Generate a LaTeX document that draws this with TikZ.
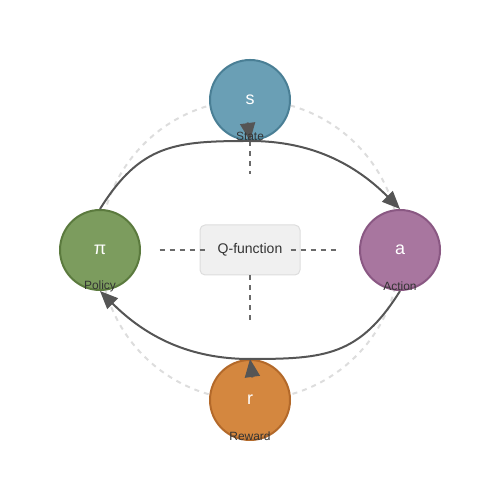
\documentclass[tikz,border=0pt]{standalone}
\usepackage{fontspec}
\setmainfont{Liberation Sans}
\usetikzlibrary{positioning,arrows.meta}
\definecolor{statefill}{HTML}{6A9FB5}
\definecolor{statedraw}{HTML}{4A7F95}
\definecolor{policyfill}{HTML}{7C9C5E}
\definecolor{policydraw}{HTML}{5B7A3E}
\definecolor{actionfill}{HTML}{A8769F}
\definecolor{actiondraw}{HTML}{8A5883}
\definecolor{rewardfill}{HTML}{D4873F}
\definecolor{rewarddraw}{HTML}{B3692A}
\definecolor{tagtext}{HTML}{333333}
\definecolor{flowgray}{HTML}{555555}
\definecolor{linkgray}{HTML}{6A6A6A}
\definecolor{ringgray}{HTML}{DDDDDD}
\definecolor{qfill}{HTML}{F0F0F0}
\definecolor{qdraw}{HTML}{DDDDDD}

\begin{document}
\begin{tikzpicture}[node distance=3cm,on grid,
  agent/.style={circle,minimum size=1.6cm,inner sep=0pt,line width=0.04cm,text=white,font=\fontsize{10.2}{12}\selectfont},
  tag/.style={text=tagtext,inner sep=0pt,font=\fontsize{6.8}{8}\selectfont},
  qbox/.style={rectangle,rounded corners=0.1cm,minimum width=2cm,minimum height=1cm,fill=qfill,draw=qdraw,line width=0.02cm,text=tagtext,font=\fontsize{7.97}{9.5}\selectfont},
  flow/.style={color=flowgray,line width=0.04cm,-{Triangle[length=0.36cm,width=0.3cm,fill=flowgray,line join=miter]}},
  link/.style={draw=linkgray,line width=0.04cm,dash pattern=on 0.1cm off 0.1cm},
  ring/.style={draw=ringgray,line width=0.04cm,dash pattern=on 0.1cm off 0.1cm}]
\useasboundingbox (0,0) rectangle (10,10);
\draw[ring] (5,5) circle (3cm);
\node[qbox] (q) at (5,5) {Q-function};
\draw[link] ([xshift=-0.8cm]q.west) -- ([xshift=0.2cm]q.west);
\draw[link] ([xshift=-0.2cm]q.east) -- ([xshift=0.8cm]q.east);
\draw[link] (q.south) -- ([yshift=-1cm]q.south);
\node[agent,fill=statefill,draw=statedraw] (s) [above=of q] {s};
\node[agent,fill=policyfill,draw=policydraw] (pi) [left=of q] {π};
\node[agent,fill=actionfill,draw=actiondraw] (a) [right=of q] {a};
\node[agent,fill=rewardfill,draw=rewarddraw] (r) [below=of q] {r};
\draw[link] (s.south) -- ([yshift=1cm]q.north);
\path[flow]
(pi.north) edge[-,out=58,in=180,out distance=1.53cm,in distance=1.5cm] (s.south)
(s.south) edge[out=0,in=135,out distance=1.2cm,in distance=1.3cm] (a.north)
(a.south) edge[-,out=238,in=0,out distance=1.53cm,in distance=1.5cm] (r.north)
(r.north) edge[out=180,in=-45,out distance=1.2cm,in distance=1.3cm] (pi.south)
([xshift=-0.05cm,yshift=0.37cm]s.south) edge (s.south)
([xshift=0.05cm,yshift=-0.37cm]r.north) edge (r.north)
;
\node[tag] (s-tag) [below=0.72cm of s] {State};
\node[tag] (pi-tag) [below=0.72cm of pi] {Policy};
\node[tag] (a-tag) [below=0.72cm of a] {Action};
\node[tag] (r-tag) [below=0.72cm of r] {Reward};
\end{tikzpicture}
\end{document}
